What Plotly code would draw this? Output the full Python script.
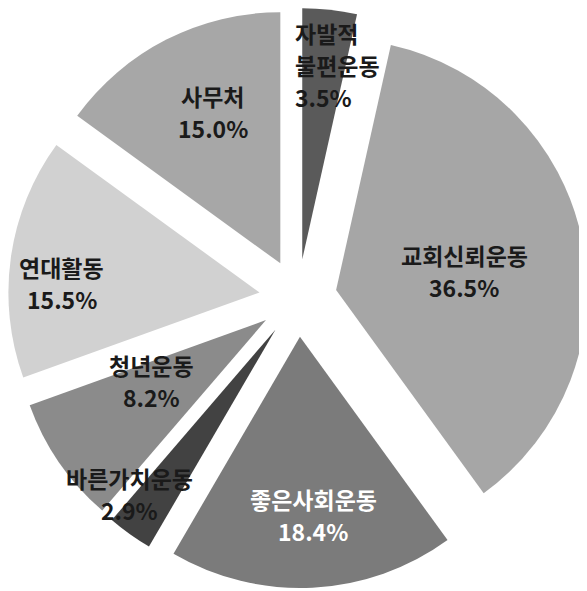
import math
import plotly.graph_objects as go

# ---- data ----
labels = ["자발적<br>불편운동", "교회신뢰운동", "좋은사회운동", "바른가치운동", "청년운동", "연대활동", "사무처"]
values = [3.5, 36.5, 18.4, 2.9, 8.2, 15.5, 15.0]

# ---- style ----
colors = ["#5a5a5a", "#a6a6a6", "#7b7b7b", "#424242", "#8b8b8b", "#d1d1d1", "#a7a7a7"]
text_colors = ["#1a1a1a", "#1a1a1a", "#ffffff", "#1a1a1a", "#1a1a1a", "#1a1a1a", "#1a1a1a"]
pull = 0.155
lab_ang_off = [-7.5, 2.5, -1.1, 5.3, 5.0, -4.5, 2.4]     # degrees from slice mid-angle
lab_r = [0.928, 0.670, 0.867, 1.03, 0.669, 0.942, 0.815]  # fraction of radius from centre
lab_anchor = ["left", "center", "center", "center", "center", "center", "center"]

W, H = 587, 591
OFF = 8  # page body margin (px) in front of the figure
side = 580
dom_x = [0.0, side / W]
dom_y = [1 - side / H, 1.0]
FONT = "Noto Sans CJK KR, Noto Sans, sans-serif"
FS = 23
LINE = 32

fig = go.Figure(go.Pie(
    labels=[l.replace("<br>", " ") for l in labels],
    values=values,
    sort=False,
    direction="clockwise",
    rotation=0,
    pull=[pull] * len(values),
    marker=dict(colors=colors, line=dict(width=0)),
    textinfo="none",
    hoverinfo="label+percent",
    domain=dict(x=dom_x, y=dom_y),
    showlegend=False,
))

# pie geometry in figure pixels (plotly: r = min(w,h) / (2 + 2*maxPull))
pw = (dom_x[1] - dom_x[0]) * W
ph = (dom_y[1] - dom_y[0]) * H
R = min(pw, ph) / (2 + 2 * pull)
cx = dom_x[0] * W + pw / 2
cy = (1 - dom_y[1]) * H + ph / 2

total = sum(values)
cum = 0.0
annotations = []
for i, v in enumerate(values):
    mid = (cum + v / 2) / total * 360
    cum += v
    ang = math.radians(mid + lab_ang_off[i])
    px = cx + lab_r[i] * R * math.sin(ang)
    py = cy - lab_r[i] * R * math.cos(ang)
    lines = labels[i].split("<br>") + [f"{v:.1f}%"]
    n = len(lines)
    for k, t in enumerate(lines):
        ly = py + (k - (n - 1) / 2) * LINE
        annotations.append(dict(
            x=px / W, y=1 - ly / H, xref="paper", yref="paper",
            text=t, showarrow=False, xanchor=lab_anchor[i], yanchor="middle",
            font=dict(family=FONT, size=FS, color=text_colors[i], weight=600),
        ))

fig.update_layout(
    width=W, height=H,
    margin=dict(l=0, r=0, t=0, b=0),
    paper_bgcolor="white", plot_bgcolor="white",
    annotations=annotations,
)

fig.write_html("out.html")
